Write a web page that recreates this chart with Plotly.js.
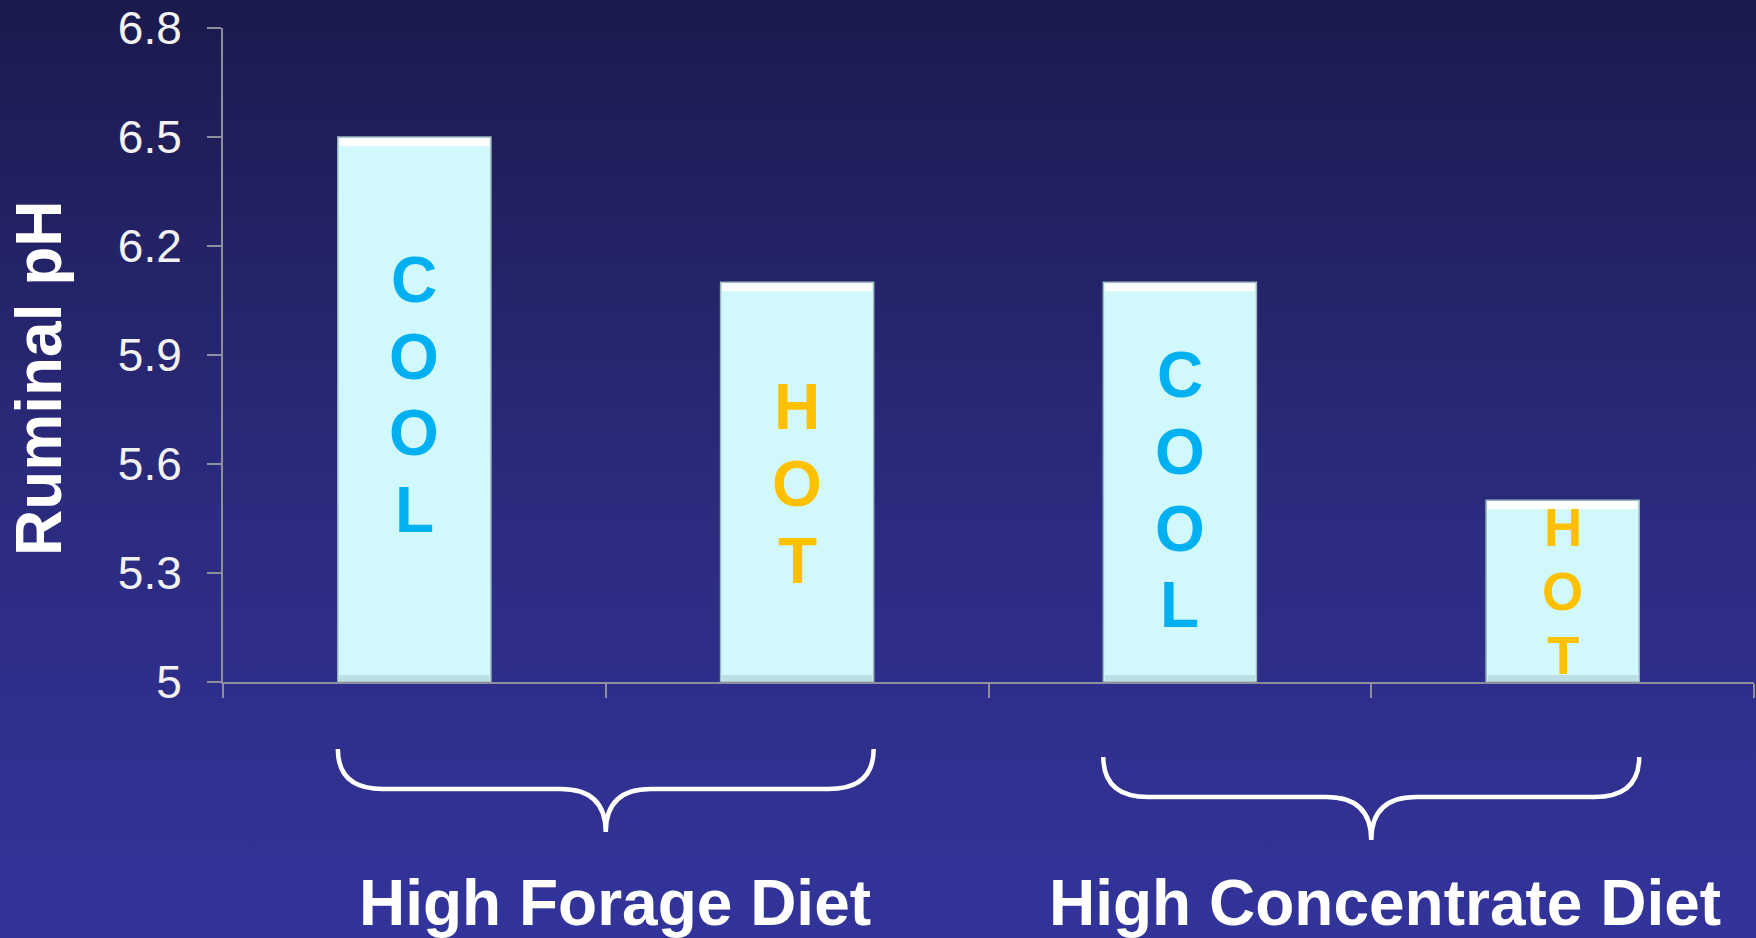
<!DOCTYPE html>
<html>
<head>
<meta charset="utf-8">
<script src="https://cdn.plot.ly/plotly-3.0.1.min.js"></script>
<style>
  html, body { margin:0; padding:0; width:1756px; height:938px; overflow:hidden;
    background: linear-gradient(to bottom, #1b1a4d 0%, #2a2a7c 50%, #33349b 100%); }
  #chart { width:1756px; height:938px; }
</style>
</head>
<body>
<div id="chart"></div>
<script>
// ---- data ----
const categories = ['High Forage Cool', 'High Forage Hot', 'High Concentrate Cool', 'High Concentrate Hot'];
const ruminalPH = [6.5, 6.1, 6.1, 5.5];
const barLabels = ['COOL', 'HOT', 'COOL', 'HOT'];
const labelCenters = [5.79, 5.545, 5.528, 5.249];   // vertical centre of each stacked label (pH units)
const labelSizes = [64, 64, 64, 53];
const groupNames = ['High Forage Diet', 'High Concentrate Diet'];
const groupMembers = [[0, 1], [2, 3]];
const yTickVals = [5, 5.3, 5.6, 5.9, 6.2, 6.5, 6.8];
const yTickText = ['5', '5.3', '5.6', '5.9', '6.2', '6.5', '6.8'];
const yRange = [5, 6.8];

// ---- layout constants ----
const W = 1756, H = 938;
const M = {l: 223, r: 2, t: 28, b: 256};
const plotW = W - M.l - M.r, plotH = H - M.t - M.b;
const pxPerUnit = plotH / (yRange[1] - yRange[0]);
const barWidth = 0.4;
const nCat = categories.length;
const xPaper = i => (i + 0.5) / nCat;          // category index -> paper x
const yPaperFromPx = px => -px / plotH;          // pixels below the x axis -> paper y
const labelColor = {COOL: '#00b0f0', HOT: '#ffc000'};
const FONT = 'Liberation Sans, Arial, Helvetica, sans-serif';

const trace = {
  type: 'bar',
  x: categories.map((c, i) => i),
  y: ruminalPH.map(v => v - yRange[0]),
  base: yRange[0],
  width: barWidth,
  marker: {color: '#d1f9fb', line: {color: '#9fb8c0', width: 1.5}},
  hoverinfo: 'skip'
};

const shapes = [];
// bevel highlights on bars
ruminalPH.forEach((v, i) => {
  shapes.push({type: 'rect', xref: 'x', yref: 'y', layer: 'above',
    x0: i - barWidth / 2 + 0.004, x1: i + barWidth / 2 - 0.004,
    y0: v - 9 / pxPerUnit, y1: v - 1 / pxPerUnit,
    fillcolor: 'rgba(255,255,255,0.95)', line: {width: 0}});
  shapes.push({type: 'rect', xref: 'x', yref: 'y', layer: 'above',
    x0: i - barWidth / 2 + 0.004, x1: i + barWidth / 2 - 0.004,
    y0: yRange[0] + 1 / pxPerUnit, y1: yRange[0] + 7 / pxPerUnit,
    fillcolor: 'rgba(160,190,200,0.45)', line: {width: 0}});
});

// curly braces under each group
const braceDims = [{top: 67, line: 107, tip: 150}, {top: 75, line: 115, tip: 158}];
groupMembers.forEach((g, k) => {
  const L = xPaper(g[0] - barWidth / 2), R = xPaper(g[1] + barWidth / 2);
  const Mx = xPaper((g[0] + g[1]) / 2);
  const r = 45 / plotW;
  const d = braceDims[k];
  const yT = yPaperFromPx(d.top), yL = yPaperFromPx(d.line), yB = yPaperFromPx(d.tip);
  const p = `M ${L},${yT} Q ${L},${yL} ${L + r},${yL} L ${Mx - r},${yL} Q ${Mx},${yL} ${Mx},${yB} ` +
            `Q ${Mx},${yL} ${Mx + r},${yL} L ${R - r},${yL} Q ${R},${yL} ${R},${yT}`;
  shapes.push({type: 'path', xref: 'paper', yref: 'paper', path: p,
    line: {color: '#ffffff', width: 4.5}});
});

const annotations = [];
// stacked letters inside bars
barLabels.forEach((lab, i) => {
  const letters = lab.split('');
  const pitch = labelSizes[i] * 1.2 / pxPerUnit;
  letters.forEach((ch, k) => {
    annotations.push({x: i, y: labelCenters[i] + ((letters.length - 1) / 2 - k) * pitch,
      xref: 'x', yref: 'y', text: '<b>' + ch + '</b>', showarrow: false,
      xanchor: 'center', yanchor: 'middle',
      font: {family: FONT, size: labelSizes[i], color: labelColor[lab]}});
  });
});
// group names
const groupTextX = [0.525, 2.536];
groupNames.forEach((name, k) => {
  annotations.push({x: xPaper(groupTextX[k]), y: yPaperFromPx(221), xref: 'paper', yref: 'paper',
    text: '<b>' + name + '</b>', showarrow: false, xanchor: 'center', yanchor: 'middle',
    font: {family: FONT, size: 64, color: '#ffffff'}});
});
// y axis title
annotations.push({x: -184 / plotW, y: 1 - (378 - M.t) / plotH, xref: 'paper', yref: 'paper',
  text: '<b>Ruminal pH</b>', textangle: -90, showarrow: false, xanchor: 'center', yanchor: 'middle',
  font: {family: FONT, size: 64, color: '#ffffff'}});

const layout = {
  width: W, height: H,
  margin: {l: M.l, r: M.r, t: M.t, b: M.b, pad: 0},
  paper_bgcolor: 'rgba(0,0,0,0)', plot_bgcolor: 'rgba(0,0,0,0)',
  showlegend: false,
  bargap: 0.6,
  xaxis: {range: [-0.5, nCat - 0.5], tickvals: [-0.5, 0.5, 1.5, 2.5, 3.5], showticklabels: false,
    ticks: 'outside', ticklen: 14, tickwidth: 2, tickcolor: '#8e8e9c',
    showline: true, linecolor: '#8e8e9c', linewidth: 2, showgrid: false, zeroline: false, fixedrange: true},
  yaxis: {range: yRange, tickvals: yTickVals, ticktext: yTickText,
    ticks: 'outside', ticklen: 14, tickwidth: 2, tickcolor: '#8e8e9c', ticklabelstandoff: 16,
    ticklabeloverflow: 'allow',
    tickfont: {family: FONT, size: 46, color: '#f2f2f2'},
    showline: true, linecolor: '#8e8e9c', linewidth: 2, showgrid: false, zeroline: false, fixedrange: true},
  shapes: shapes,
  annotations: annotations
};

Plotly.newPlot('chart', [trace], layout, {displayModeBar: false, staticPlot: true});
</script>
</body>
</html>
